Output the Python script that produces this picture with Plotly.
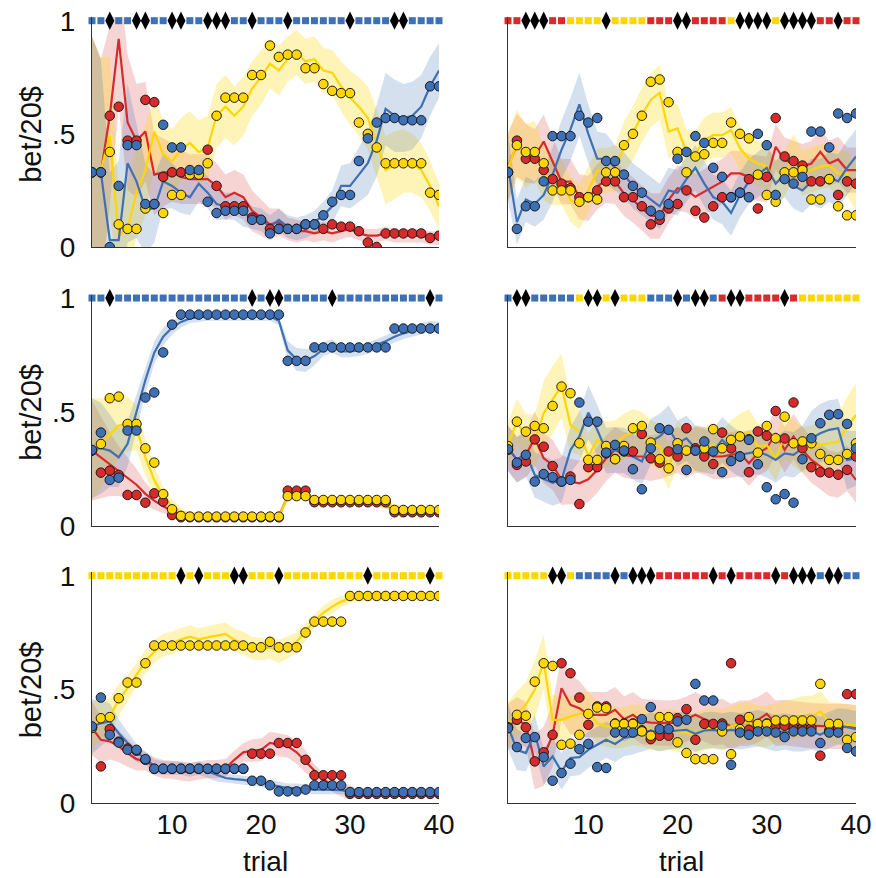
import plotly.graph_objects as go

trials = list(range(1, 41))
tick_vals_x = [10, 20, 30, 40]
tick_vals_y = [0, 0.5, 1]
tick_text_y = ["0", ".5", "1"]

# ---------------- Panel A (top-left) ----------------
dots_blue_A = [0.33,0.33,0.0,0.27,0.45,0.45,0.19,0.19,0.54,0.44,0.44,0.34,0.34,0.20,0.15,0.16,0.16,0.16,0.12,0.12,0.06,0.08,0.08,0.08,0.10,0.10,0.14,0.20,0.23,0.23,0.38,0.48,0.55,0.57,0.57,0.56,0.56,0.56,0.71,0.71]
fit_blue_A = [0.33,0.33,0.03,0.03,0.37,0.29,0.17,0.17,0.29,0.27,0.24,0.22,0.28,0.24,0.19,0.18,0.18,0.15,0.13,0.12,0.09,0.12,0.09,0.08,0.09,0.11,0.14,0.18,0.27,0.27,0.32,0.37,0.47,0.61,0.58,0.57,0.58,0.62,0.71,0.78]
sd_blue_A = [0.6,0.5,0.3,0.35,0.35,0.25,0.2,0.15,0.12,0.1,0.09,0.08,0.08,0.07,0.07,0.06,0.06,0.06,0.05,0.05,0.05,0.05,0.05,0.05,0.05,0.05,0.06,0.07,0.09,0.1,0.12,0.14,0.16,0.16,0.16,0.15,0.15,0.14,0.13,0.12]
dots_red_A = [0.33,0.33,0.58,0.62,0.47,0.47,0.65,0.64,0.31,0.33,0.33,0.33,0.32,0.43,0.27,0.18,0.18,0.18,0.13,0.12,0.08,0.08,0.08,0.08,0.10,0.10,0.08,0.10,0.09,0.09,0.07,0.02,0.0,0.06,0.06,0.06,0.06,0.06,0.04,0.05]
fit_red_A = [0.33,0.33,0.58,0.92,0.55,0.47,0.51,0.32,0.33,0.33,0.31,0.30,0.30,0.30,0.27,0.22,0.24,0.22,0.16,0.13,0.10,0.11,0.08,0.07,0.07,0.06,0.07,0.06,0.07,0.08,0.06,0.05,0.05,0.06,0.05,0.05,0.05,0.05,0.04,0.04]
sd_red_A = [0.6,0.5,0.4,0.3,0.3,0.25,0.22,0.18,0.15,0.13,0.12,0.11,0.11,0.11,0.1,0.1,0.1,0.1,0.09,0.08,0.07,0.06,0.05,0.05,0.04,0.04,0.04,0.04,0.035,0.035,0.03,0.03,0.03,0.03,0.03,0.03,0.03,0.03,0.03,0.03]
dots_yellow_A = [0.33,0.33,0.42,0.10,0.08,0.08,0.17,0.19,0.15,0.23,0.23,0.32,0.32,0.37,0.58,0.66,0.66,0.66,0.76,0.76,0.89,0.84,0.85,0.85,0.79,0.79,0.72,0.69,0.68,0.68,0.55,0.50,0.44,0.37,0.37,0.37,0.37,0.37,0.24,0.23]
fit_yellow_A = [0.33,0.34,0.49,0.05,0.08,0.24,0.34,0.51,0.41,0.38,0.43,0.46,0.42,0.44,0.58,0.62,0.58,0.62,0.70,0.75,0.81,0.78,0.83,0.86,0.82,0.83,0.78,0.77,0.71,0.66,0.62,0.57,0.46,0.34,0.36,0.38,0.37,0.34,0.27,0.18]
sd_yellow_A = [0.6,0.5,0.35,0.2,0.2,0.2,0.2,0.16,0.15,0.14,0.14,0.14,0.14,0.14,0.14,0.14,0.13,0.13,0.12,0.12,0.11,0.11,0.1,0.1,0.1,0.1,0.1,0.1,0.11,0.12,0.13,0.14,0.15,0.15,0.15,0.14,0.13,0.12,0.11,0.1]
strip_A = "bbkbbkkbbkkbbkkkbbkbbbkbbbbbbkbbbbkkbbbb"

# ---------------- Panel B (top-right) ----------------
dots_blue_B = [0.33,0.08,0.18,0.18,0.29,0.49,0.49,0.49,0.58,0.55,0.57,0.38,0.38,0.32,0.27,0.24,0.16,0.14,0.19,0.39,0.42,0.49,0.46,0.35,0.31,0.22,0.24,0.22,0.50,0.45,0.23,0.30,0.28,0.31,0.51,0.51,0.44,0.59,0.57,0.59]
fit_blue_B = [0.355,0.11,0.21,0.19,0.23,0.32,0.43,0.52,0.63,0.50,0.39,0.39,0.35,0.32,0.27,0.24,0.21,0.18,0.25,0.24,0.30,0.35,0.28,0.22,0.20,0.15,0.23,0.29,0.32,0.35,0.28,0.32,0.27,0.25,0.29,0.28,0.31,0.29,0.35,0.40]
sd_blue_B = [0.15,0.1,0.1,0.1,0.11,0.12,0.13,0.14,0.14,0.13,0.12,0.11,0.1,0.1,0.1,0.1,0.1,0.1,0.1,0.1,0.1,0.1,0.1,0.1,0.1,0.1,0.1,0.1,0.1,0.1,0.1,0.1,0.1,0.1,0.1,0.11,0.11,0.12,0.12,0.12]
dots_red_B = [0.33,0.47,0.39,0.39,0.34,0.30,0.28,0.26,0.22,0.22,0.25,0.29,0.29,0.22,0.22,0.18,0.10,0.12,0.17,0.19,0.25,0.16,0.13,0.18,0.22,0.22,0.24,0.30,0.17,0.31,0.57,0.40,0.38,0.36,0.29,0.29,0.30,0.23,0.29,0.28]
fit_red_B = [0.355,0.45,0.415,0.40,0.466,0.376,0.289,0.289,0.222,0.215,0.267,0.296,0.289,0.237,0.208,0.171,0.137,0.137,0.208,0.26,0.252,0.222,0.245,0.267,0.289,0.325,0.325,0.31,0.303,0.299,0.443,0.384,0.369,0.355,0.369,0.421,0.369,0.387,0.34,0.34]
sd_red_B = [0.15,0.14,0.13,0.12,0.12,0.11,0.1,0.1,0.1,0.1,0.1,0.1,0.1,0.1,0.1,0.1,0.1,0.1,0.1,0.1,0.1,0.1,0.1,0.1,0.1,0.1,0.1,0.1,0.1,0.1,0.1,0.1,0.1,0.1,0.1,0.1,0.1,0.1,0.1,0.1]
dots_yellow_B = [0.33,0.45,0.42,0.42,0.37,0.25,0.25,0.25,0.20,0.22,0.21,0.33,0.33,0.45,0.50,0.58,0.73,0.74,0.64,0.42,0.33,0.40,0.41,0.46,0.46,0.55,0.50,0.48,0.32,0.23,0.20,0.33,0.33,0.34,0.21,0.21,0.30,0.18,0.14,0.14]
fit_yellow_B = [0.348,0.457,0.401,0.428,0.325,0.284,0.284,0.21,0.178,0.252,0.337,0.337,0.348,0.443,0.502,0.583,0.65,0.682,0.51,0.524,0.42,0.413,0.472,0.494,0.494,0.517,0.436,0.391,0.369,0.355,0.281,0.325,0.399,0.325,0.34,0.355,0.362,0.325,0.325,0.259]
sd_yellow_B = [0.15,0.15,0.14,0.13,0.12,0.1,0.1,0.1,0.1,0.1,0.1,0.1,0.1,0.11,0.12,0.12,0.12,0.12,0.12,0.11,0.1,0.1,0.1,0.1,0.1,0.1,0.1,0.1,0.1,0.1,0.1,0.1,0.1,0.1,0.1,0.1,0.1,0.1,0.1,0.1]
strip_B = "rrkkkrryyyykyyyyrrrkkrrrrykkkkykkkkrrkrr"

# ---------------- Panel C (middle-left) ----------------
dots_blue_C = [0.333,0.409,0.201,0.211,0.418,0.418,0.563,0.585,0.761,0.883,0.927,0.927,0.927,0.927,0.927,0.927,0.927,0.927,0.927,0.927,0.927,0.927,0.724,0.724,0.724,0.783,0.783,0.783,0.783,0.783,0.783,0.783,0.783,0.783,0.866,0.866,0.866,0.866,0.866,0.866]
fit_blue_C = [0.34,0.34,0.33,0.30,0.36,0.50,0.64,0.76,0.83,0.87,0.895,0.91,0.915,0.92,0.92,0.92,0.92,0.92,0.92,0.92,0.92,0.90,0.77,0.73,0.725,0.745,0.775,0.79,0.765,0.765,0.77,0.78,0.795,0.81,0.83,0.845,0.855,0.865,0.875,0.87]
sd_blue_C = [0.22,0.2,0.16,0.13,0.1,0.08,0.06,0.05,0.04,0.03,0.025,0.02,0.02,0.02,0.02,0.02,0.02,0.02,0.02,0.02,0.02,0.02,0.04,0.05,0.05,0.04,0.03,0.03,0.025,0.025,0.025,0.025,0.025,0.025,0.025,0.025,0.025,0.025,0.025,0.025]
dots_red_C = [0.33,0.233,0.242,0.223,0.135,0.135,0.101,0.142,0.106,0.047,0.037,0.037,0.037,0.037,0.037,0.037,0.037,0.037,0.037,0.037,0.037,0.037,0.154,0.154,0.154,0.103,0.103,0.103,0.103,0.103,0.103,0.103,0.103,0.103,0.059,0.059,0.059,0.059,0.059,0.059]
fit_red_C = [0.33,0.30,0.27,0.24,0.21,0.18,0.14,0.11,0.085,0.065,0.052,0.045,0.042,0.04,0.04,0.04,0.04,0.04,0.04,0.04,0.04,0.04,0.13,0.135,0.13,0.115,0.108,0.105,0.105,0.105,0.105,0.10,0.10,0.09,0.075,0.068,0.065,0.065,0.065,0.065]
sd_red_C = [0.22,0.18,0.14,0.11,0.09,0.07,0.05,0.04,0.03,0.02,0.015,0.015,0.015,0.015,0.015,0.015,0.015,0.015,0.015,0.015,0.015,0.015,0.015,0.015,0.015,0.015,0.015,0.015,0.015,0.015,0.015,0.015,0.015,0.015,0.015,0.015,0.015,0.015,0.015,0.015]
dots_yellow_C = [0.33,0.359,0.560,0.567,0.447,0.447,0.340,0.277,0.139,0.072,0.043,0.040,0.040,0.040,0.040,0.040,0.040,0.040,0.040,0.040,0.040,0.040,0.130,0.130,0.130,0.113,0.113,0.113,0.113,0.113,0.113,0.113,0.113,0.113,0.069,0.069,0.069,0.069,0.069,0.069]
fit_yellow_C = [0.34,0.36,0.40,0.44,0.447,0.43,0.30,0.20,0.13,0.085,0.058,0.045,0.04,0.04,0.04,0.04,0.04,0.04,0.04,0.04,0.04,0.04,0.128,0.128,0.125,0.113,0.112,0.112,0.112,0.112,0.112,0.11,0.10,0.09,0.08,0.072,0.07,0.07,0.07,0.07]
sd_yellow_C = [0.22,0.2,0.17,0.14,0.12,0.1,0.08,0.06,0.04,0.03,0.02,0.015,0.015,0.015,0.015,0.015,0.015,0.015,0.015,0.015,0.015,0.015,0.015,0.015,0.015,0.015,0.015,0.015,0.015,0.015,0.015,0.015,0.015,0.015,0.015,0.015,0.015,0.015,0.015,0.015]
strip_C = "bbkbbbbbbbbbbbbbbbkbkkbbbbbkbbbbbbbbbbkb"

# ---------------- Panel D (middle-right) ----------------
dots_blue_D = [0.336,0.277,0.311,0.194,0.227,0.213,0.194,0.201,0.541,0.457,0.457,0.321,0.355,0.330,0.248,0.160,0.340,0.428,0.421,0.336,0.245,0.330,0.370,0.326,0.235,0.284,0.304,0.377,0.270,0.169,0.116,0.139,0.101,0.292,0.384,0.450,0.487,0.490,0.447,0.340]
fit_blue_D = [0.340,0.290,0.317,0.223,0.205,0.188,0.201,0.333,0.392,0.497,0.421,0.330,0.333,0.330,0.304,0.282,0.370,0.392,0.428,0.362,0.384,0.340,0.333,0.326,0.377,0.340,0.311,0.318,0.326,0.311,0.289,0.318,0.311,0.340,0.384,0.406,0.421,0.428,0.289,0.296]
sd_blue_D = [0.1,0.1,0.1,0.1,0.1,0.1,0.1,0.1,0.11,0.12,0.11,0.1,0.1,0.1,0.1,0.1,0.1,0.1,0.1,0.1,0.1,0.1,0.1,0.1,0.1,0.1,0.1,0.1,0.1,0.1,0.1,0.1,0.1,0.1,0.12,0.13,0.13,0.13,0.13,0.12]
dots_red_D = [0.333,0.267,0.282,0.379,0.347,0.262,0.194,0.216,0.095,0.257,0.257,0.318,0.293,0.326,0.326,0.403,0.296,0.277,0.326,0.304,0.428,0.340,0.304,0.271,0.409,0.340,0.304,0.235,0.414,0.395,0.504,0.383,0.541,0.340,0.257,0.235,0.233,0.224,0.245,0.304]
fit_red_D = [0.340,0.290,0.311,0.384,0.296,0.267,0.201,0.194,0.186,0.204,0.245,0.296,0.333,0.311,0.304,0.304,0.296,0.304,0.318,0.333,0.311,0.333,0.326,0.304,0.304,0.311,0.318,0.274,0.318,0.340,0.406,0.333,0.392,0.333,0.289,0.260,0.230,0.223,0.252,0.201]
sd_red_D = [0.1,0.1,0.1,0.12,0.11,0.11,0.11,0.1,0.1,0.1,0.1,0.1,0.1,0.1,0.1,0.1,0.1,0.1,0.1,0.1,0.1,0.1,0.1,0.1,0.1,0.1,0.1,0.1,0.1,0.1,0.1,0.1,0.1,0.1,0.1,0.1,0.1,0.1,0.1,0.1]
dots_yellow_D = [0.35,0.457,0.413,0.438,0.428,0.526,0.611,0.582,0.362,0.289,0.289,0.350,0.292,0.350,0.428,0.438,0.365,0.292,0.252,0.362,0.330,0.330,0.340,0.424,0.340,0.377,0.392,0.380,0.321,0.438,0.384,0.479,0.362,0.370,0.362,0.315,0.289,0.289,0.315,0.362]
fit_yellow_D = [0.355,0.457,0.391,0.370,0.494,0.553,0.614,0.443,0.413,0.304,0.377,0.355,0.362,0.392,0.413,0.399,0.365,0.347,0.259,0.362,0.318,0.340,0.333,0.355,0.318,0.362,0.392,0.413,0.347,0.355,0.296,0.392,0.362,0.333,0.340,0.355,0.362,0.370,0.435,0.487]
sd_yellow_D = [0.1,0.1,0.1,0.12,0.14,0.15,0.14,0.12,0.1,0.1,0.1,0.1,0.1,0.1,0.1,0.1,0.1,0.1,0.1,0.1,0.1,0.1,0.1,0.1,0.1,0.1,0.1,0.1,0.1,0.1,0.1,0.1,0.1,0.1,0.1,0.1,0.11,0.12,0.13,0.14]
strip_D = "bkkbbbbbykkykyyybbbkbkkbrkkrrrrkryyyyyyy"

# ---------------- Panel E (bottom-left) ----------------
dots_blue_E = [0.337,0.464,0.300,0.266,0.234,0.234,0.193,0.151,0.151,0.151,0.151,0.151,0.151,0.151,0.151,0.151,0.151,0.151,0.098,0.098,0.078,0.051,0.051,0.051,0.059,0.078,0.078,0.078,0.078,0.048,0.048,0.048,0.048,0.048,0.048,0.048,0.048,0.048,0.048,0.048]
fit_blue_E = [0.337,0.351,0.359,0.307,0.264,0.22,0.198,0.161,0.154,0.154,0.154,0.146,0.154,0.139,0.125,0.110,0.105,0.102,0.095,0.091,0.081,0.073,0.066,0.066,0.061,0.059,0.059,0.059,0.056,0.051,0.051,0.051,0.051,0.051,0.051,0.051,0.051,0.051,0.051,0.051]
sd_blue_E = [0.12,0.1,0.08,0.06,0.05,0.04,0.03,0.03,0.03,0.03,0.03,0.03,0.03,0.03,0.03,0.02,0.02,0.02,0.02,0.02,0.02,0.02,0.02,0.02,0.02,0.02,0.02,0.02,0.02,0.015,0.015,0.015,0.015,0.015,0.015,0.015,0.015,0.015,0.015,0.015]
dots_red_E = [0.333,0.161,0.325,0.27,0.24,0.23,0.19,0.15,0.15,0.15,0.15,0.15,0.15,0.15,0.15,0.15,0.15,0.15,0.217,0.217,0.217,0.264,0.264,0.264,0.190,0.122,0.122,0.122,0.122,0.040,0.040,0.040,0.040,0.040,0.040,0.040,0.040,0.040,0.040,0.040]
fit_red_E = [0.33,0.278,0.271,0.249,0.22,0.193,0.183,0.161,0.149,0.146,0.139,0.135,0.143,0.149,0.149,0.154,0.19,0.223,0.231,0.234,0.264,0.256,0.249,0.223,0.183,0.139,0.102,0.081,0.059,0.048,0.044,0.04,0.04,0.04,0.04,0.04,0.04,0.04,0.04,0.04]
sd_red_E = [0.12,0.1,0.08,0.07,0.06,0.05,0.04,0.04,0.04,0.04,0.04,0.04,0.04,0.04,0.04,0.04,0.04,0.04,0.05,0.05,0.05,0.05,0.05,0.05,0.05,0.03,0.03,0.03,0.03,0.03,0.015,0.015,0.015,0.015,0.015,0.015,0.015,0.015,0.015,0.015]
dots_yellow_E = [0.33,0.373,0.378,0.461,0.530,0.530,0.615,0.693,0.693,0.693,0.693,0.693,0.693,0.693,0.693,0.693,0.693,0.693,0.685,0.685,0.709,0.685,0.685,0.685,0.750,0.798,0.798,0.798,0.798,0.911,0.911,0.911,0.911,0.911,0.911,0.911,0.911,0.911,0.911,0.911]
fit_yellow_E = [0.34,0.366,0.381,0.454,0.505,0.564,0.622,0.666,0.695,0.703,0.720,0.732,0.720,0.729,0.735,0.744,0.717,0.703,0.681,0.677,0.685,0.666,0.685,0.710,0.754,0.802,0.837,0.864,0.886,0.900,0.908,0.905,0.911,0.908,0.911,0.912,0.911,0.912,0.912,0.911]
sd_yellow_E = [0.1,0.09,0.08,0.07,0.06,0.05,0.05,0.05,0.05,0.05,0.05,0.05,0.05,0.05,0.05,0.05,0.05,0.05,0.05,0.05,0.05,0.05,0.05,0.04,0.04,0.03,0.03,0.03,0.025,0.02,0.02,0.02,0.02,0.02,0.02,0.02,0.02,0.02,0.02,0.02]
strip_E = "yyyyyyyyyykykyyykkyyykyyyyyyyyykyyyyyyky"

# ---------------- Panel F (bottom-right) ----------------
dots_blue_F = [0.329,0.246,0.286,0.290,0.202,0.098,0.132,0.173,0.237,0.260,0.158,0.154,0.310,0.310,0.310,0.369,0.422,0.325,0.325,0.359,0.366,0.524,0.451,0.451,0.340,0.168,0.310,0.300,0.315,0.315,0.310,0.290,0.315,0.315,0.315,0.264,0.310,0.310,0.242,0.227]
fit_blue_F = [0.337,0.234,0.220,0.307,0.161,0.205,0.139,0.198,0.202,0.234,0.256,0.278,0.260,0.286,0.293,0.307,0.319,0.307,0.315,0.319,0.322,0.304,0.319,0.322,0.315,0.322,0.315,0.322,0.329,0.319,0.307,0.315,0.307,0.307,0.315,0.300,0.322,0.337,0.334,0.325]
sd_blue_F = [0.1,0.09,0.08,0.08,0.08,0.08,0.08,0.08,0.08,0.08,0.08,0.08,0.08,0.08,0.08,0.08,0.08,0.08,0.08,0.08,0.08,0.08,0.08,0.08,0.08,0.08,0.08,0.08,0.08,0.08,0.08,0.08,0.08,0.08,0.08,0.08,0.08,0.08,0.08,0.08]
dots_red_F = [0.333,0.366,0.333,0.183,0.223,0.300,0.615,0.571,0.464,0.344,0.425,0.425,0.35,0.35,0.35,0.32,0.281,0.296,0.296,0.373,0.413,0.278,0.348,0.348,0.35,0.615,0.366,0.322,0.344,0.35,0.34,0.34,0.33,0.33,0.33,0.208,0.318,0.33,0.479,0.479]
fit_red_F = [0.337,0.366,0.344,0.180,0.205,0.300,0.505,0.432,0.417,0.388,0.388,0.388,0.410,0.369,0.388,0.359,0.354,0.351,0.351,0.354,0.369,0.388,0.369,0.354,0.359,0.337,0.351,0.351,0.366,0.392,0.351,0.354,0.348,0.344,0.340,0.337,0.337,0.337,0.337,0.329]
sd_red_F = [0.1,0.1,0.1,0.12,0.13,0.14,0.14,0.13,0.12,0.1,0.1,0.1,0.1,0.1,0.1,0.1,0.1,0.1,0.1,0.1,0.1,0.1,0.1,0.1,0.1,0.1,0.1,0.1,0.1,0.1,0.1,0.1,0.1,0.1,0.1,0.1,0.1,0.1,0.1,0.1]
dots_yellow_F = [0.333,0.388,0.384,0.534,0.615,0.603,0.256,0.261,0.300,0.392,0.420,0.417,0.348,0.348,0.348,0.315,0.296,0.378,0.378,0.267,0.220,0.193,0.193,0.193,0.315,0.215,0.325,0.378,0.348,0.348,0.363,0.363,0.363,0.363,0.363,0.524,0.348,0.348,0.278,0.290]
fit_yellow_F = [0.344,0.392,0.432,0.498,0.622,0.366,0.366,0.381,0.392,0.403,0.351,0.337,0.329,0.334,0.344,0.340,0.322,0.319,0.325,0.315,0.307,0.304,0.322,0.329,0.322,0.337,0.351,0.354,0.340,0.337,0.351,0.359,0.369,0.381,0.381,0.403,0.354,0.351,0.344,0.340]
sd_yellow_F = [0.1,0.1,0.1,0.13,0.12,0.11,0.1,0.09,0.09,0.09,0.09,0.09,0.09,0.09,0.09,0.09,0.09,0.09,0.09,0.09,0.09,0.09,0.09,0.09,0.09,0.09,0.09,0.09,0.09,0.09,0.09,0.09,0.09,0.09,0.09,0.09,0.09,0.09,0.09,0.09]
strip_F = "yyyyykkybbbbkbkkkrrrrrrkrkrrrrkrkkkbkkbb"

# ---------------- styling ----------------
COLORS = {"b": "#3E70B6", "r": "#D82A2A", "y": "#FFD600"}
FILLS = {"b": "rgba(62,112,182,0.22)", "r": "rgba(216,42,42,0.20)", "y": "rgba(255,214,0,0.28)"}
FONT = "Liberation Sans, Arial, Helvetica, sans-serif"

panels = [
    ("A", 1, 1, strip_A, {"r": (dots_red_A, fit_red_A, sd_red_A), "y": (dots_yellow_A, fit_yellow_A, sd_yellow_A), "b": (dots_blue_A, fit_blue_A, sd_blue_A)}),
    ("B", 1, 2, strip_B, {"r": (dots_red_B, fit_red_B, sd_red_B), "y": (dots_yellow_B, fit_yellow_B, sd_yellow_B), "b": (dots_blue_B, fit_blue_B, sd_blue_B)}),
    ("C", 2, 1, strip_C, {"r": (dots_red_C, fit_red_C, sd_red_C), "y": (dots_yellow_C, fit_yellow_C, sd_yellow_C), "b": (dots_blue_C, fit_blue_C, sd_blue_C)}),
    ("D", 2, 2, strip_D, {"r": (dots_red_D, fit_red_D, sd_red_D), "y": (dots_yellow_D, fit_yellow_D, sd_yellow_D), "b": (dots_blue_D, fit_blue_D, sd_blue_D)}),
    ("E", 3, 1, strip_E, {"r": (dots_red_E, fit_red_E, sd_red_E), "y": (dots_yellow_E, fit_yellow_E, sd_yellow_E), "b": (dots_blue_E, fit_blue_E, sd_blue_E)}),
    ("F", 3, 2, strip_F, {"r": (dots_red_F, fit_red_F, sd_red_F), "y": (dots_yellow_F, fit_yellow_F, sd_yellow_F), "b": (dots_blue_F, fit_blue_F, sd_blue_F)}),
]

W, H = 876, 878
col_dom = {1: [92 / W, 439 / W], 2: [508 / W, 856 / W]}
row_dom = {1: [1 - 247.0 / H, 1 - 17.3 / H], 2: [1 - 525.7 / H, 1 - 294.6 / H], 3: [1 - 803.0 / H, 1 - 572.3 / H]}

fig = go.Figure()
layout = dict(width=W, height=H, autosize=False, margin=dict(l=0, r=0, t=0, b=0, pad=0, autoexpand=False),
              paper_bgcolor="white", plot_bgcolor="white", showlegend=False,
              font=dict(family=FONT, color="#111"))

for i, (name, row, col, strip, series) in enumerate(panels):
    k = i + 1
    xa = "x" if k == 1 else f"x{k}"
    ya = "y" if k == 1 else f"y{k}"
    # bands
    for c in ["r", "y", "b"]:
        d, f, s = series[c]
        hi = [a + b for a, b in zip(f, s)]
        lo = [a - b for a, b in zip(f, s)]
        fig.add_trace(go.Scatter(x=trials + trials[::-1], y=hi + lo[::-1], fill="toself",
                                 fillcolor=FILLS[c], line=dict(width=0), mode="lines",
                                 hoverinfo="skip", xaxis=xa, yaxis=ya))
    # model lines
    for c in ["r", "y", "b"]:
        d, f, s = series[c]
        fig.add_trace(go.Scatter(x=trials, y=f, mode="lines", line=dict(color=COLORS[c], width=2.2),
                                 hoverinfo="skip", xaxis=xa, yaxis=ya))
    # dots
    for c in ["r", "y", "b"]:
        d, f, s = series[c]
        fig.add_trace(go.Scatter(x=trials, y=d, mode="markers",
                                 marker=dict(color=COLORS[c], size=9.5, line=dict(color="#1a1a1a", width=1)),
                                 xaxis=xa, yaxis=ya))
    # strip of squares and drops at y = 1
    sq_x = [t for t, ch in zip(trials, strip) if ch != "k"]
    sq_c = [COLORS[ch] for ch in strip if ch != "k"]
    dk_x = [t for t, ch in zip(trials, strip) if ch == "k"]
    fig.add_trace(go.Scatter(x=sq_x, y=[1] * len(sq_x), mode="markers", cliponaxis=False,
                             marker=dict(symbol="square", size=7, color=sq_c, line=dict(width=0)),
                             xaxis=xa, yaxis=ya))
    fig.add_trace(go.Scatter(x=dk_x, y=[1] * len(dk_x), mode="markers", cliponaxis=False,
                             marker=dict(symbol="diamond-tall", size=13, color="black", line=dict(width=0)),
                             xaxis=xa, yaxis=ya))

    xkey = "xaxis" if k == 1 else f"xaxis{k}"
    ykey = "yaxis" if k == 1 else f"yaxis{k}"
    layout[xkey] = dict(domain=col_dom[col], anchor=ya, range=[1, 40], showline=True, linecolor="#333",
                        linewidth=1.2, showgrid=False, zeroline=False, ticks="", tickvals=tick_vals_x,
                        showticklabels=(row == 3), ticklabelstandoff=-4, automargin=False,
                        tickfont=dict(size=28, family=FONT, color="#111"))
    layout[ykey] = dict(domain=row_dom[row], anchor=xa, range=[0, 1.015], showline=True, linecolor="#333",
                        linewidth=1.2, showgrid=False, zeroline=False, ticks="", tickvals=tick_vals_y,
                        ticktext=tick_text_y, showticklabels=(col == 1), ticklabelstandoff=10,
                        automargin=False, tickfont=dict(size=28, family=FONT, color="#111"))

annotations = []
for row in [1, 2, 3]:
    yc = (row_dom[row][0] + row_dom[row][1]) / 2 - 0.003
    annotations.append(dict(text="bet/20$", x=31 / W, y=yc, xref="paper", yref="paper", textangle=-90,
                            showarrow=False, xanchor="center", yanchor="middle",
                            font=dict(size=29, family=FONT, color="#111")))
for col in [1, 2]:
    xc = (col_dom[col][0] + col_dom[col][1]) / 2
    annotations.append(dict(text="trial", x=xc, y=0, xref="paper", yref="paper",
                            showarrow=False, xanchor="center", yanchor="bottom", borderpad=0,
                            font=dict(size=28, family=FONT, color="#111")))
layout["annotations"] = annotations
fig.update_layout(**layout)
fig.write_html("out.html", config={"displayModeBar": False},
               post_script="document.body.style.margin='0';document.body.style.overflow='hidden';")
